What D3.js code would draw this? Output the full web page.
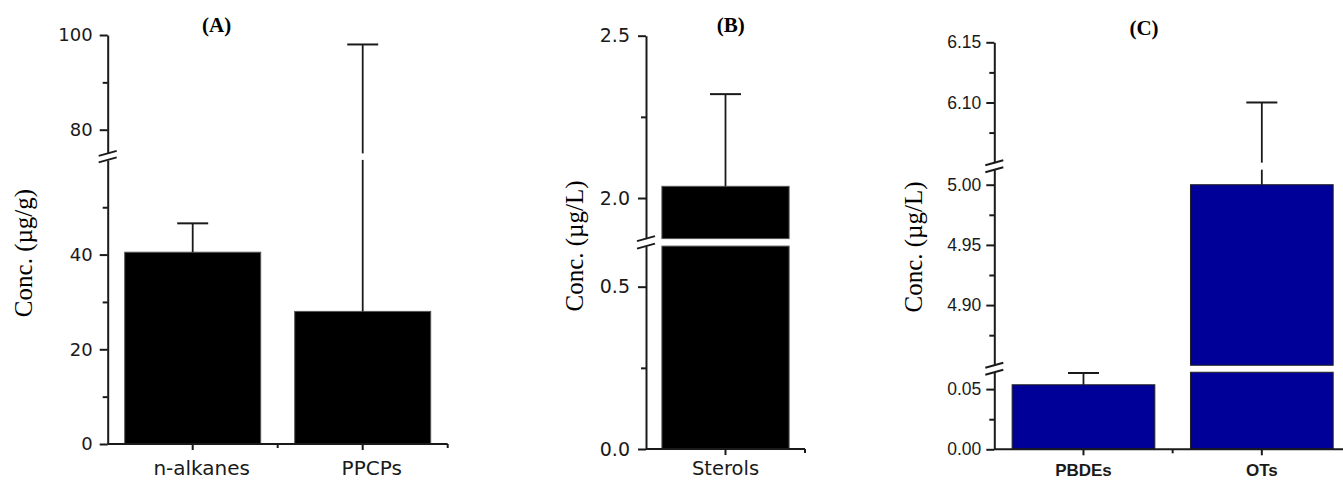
<!DOCTYPE html>
<html>
<head>
<meta charset="utf-8">
<script src="https://cdn.jsdelivr.net/npm/d3@7"></script>
<style>
  html, body { margin: 0; padding: 0; background: #fff; }
  svg { display: block; }
</style>
</head>
<body>
<div id="chart"></div>
<script>
// panel A (sediment, µg/g)
const aCategories = ["n-alkanes", "PPCPs"];
const aValues = [40.5, 28.0];
const aErrors = [6.1, 70.0];
const aSegments = [[0, 60], [75, 100]];
const aTicks = [0, 20, 40, 80, 100];
const aMinorTicks = [10, 30, 50, 90];

// panel B (water, µg/L)
const bCategories = ["Sterols"];
const bValues = [2.036];
const bErrors = [0.284];
const bSegments = [[0, 0.625], [1.875, 2.5]];
const bTicks = [0, 0.5, 2.0, 2.5];
const bMinorTicks = [0.25, 2.25];

// panel C (water, µg/L)
const cCategories = ["PBDEs", "OTs"];
const cValues = [0.0536, 5.0];
const cErrors = [0.0098, 1.10];
const cSegments = [[0, 0.064], [4.85, 5.0125], [6.05, 6.15]];
const cTicks = [0, 0.05, 4.90, 4.95, 5.00, 6.10, 6.15];
const cMinorTicks = [0.025, 4.875, 4.925, 4.975, 6.075, 6.125];

const W = 1343, H = 480;
const ink = "#1a1a1a";

const svg = d3.select("#chart").append("svg")
    .attr("width", W)
    .attr("height", H);

function drawPanel(opt) {
    const g = svg.append("g");

    // stacked linear scales, one per axis segment, same px/unit
    const total = d3.sum(opt.segments, s => s[1] - s[0]);
    const k = (opt.bottom - opt.top - opt.gap * (opt.segments.length - 1)) / total;
    let y0 = opt.bottom;
    const scales = opt.segments.map(s => {
        const y1 = y0 - (s[1] - s[0]) * k;
        const sc = d3.scaleLinear().domain(s).range([y0, y1]);
        y0 = y1 - opt.gap;
        return sc;
    });

    const x = d3.scaleBand()
        .domain(opt.categories)
        .range([opt.left, opt.right])
        .paddingInner(0.2)
        .paddingOuter(0.1);

    // bars, split at the breaks
    opt.categories.forEach((c, i) => {
        const v = opt.values[i];
        const top = v + opt.errors[i];
        scales.forEach(sc => {
            const [d0, d1] = sc.domain();
            const lo = Math.max(d0, 0), hi = Math.min(d1, v);
            if (hi > lo) {
                g.append("rect")
                    .attr("x", x(c))
                    .attr("width", x.bandwidth())
                    .attr("y", sc(hi))
                    .attr("height", sc(lo) - sc(hi))
                    .attr("fill", opt.fill)
                    .attr("stroke", opt.stroke)
                    .attr("stroke-width", 1);
            }
            const elo = Math.max(d0, v), ehi = Math.min(d1, top);
            if (ehi > elo) {
                g.append("line")
                    .attr("x1", x(c) + x.bandwidth() / 2)
                    .attr("x2", x(c) + x.bandwidth() / 2)
                    .attr("y1", sc(elo))
                    .attr("y2", sc(ehi))
                    .attr("stroke", ink)
                    .attr("stroke-width", 1.8);
            }
            if (top >= d0 && top <= d1) {
                g.append("line")
                    .attr("x1", x(c) + x.bandwidth() / 2 - 15.5)
                    .attr("x2", x(c) + x.bandwidth() / 2 + 15.5)
                    .attr("y1", sc(top))
                    .attr("y2", sc(top))
                    .attr("stroke", ink)
                    .attr("stroke-width", 2);
            }
        });
    });

    // y axis, one piece per segment
    scales.forEach(sc => {
        const [d0, d1] = sc.domain();
        const yAxis = d3.axisLeft(sc)
            .tickValues(opt.ticks.filter(t => t >= d0 - 1e-9 && t <= d1 + 1e-9))
            .tickFormat(opt.format)
            .tickSize(8)
            .tickSizeOuter(0)
            .tickPadding(opt.tickPad);
        const ga = g.append("g")
            .attr("transform", `translate(${opt.left},0)`)
            .call(yAxis);
        ga.select(".domain").attr("stroke", ink).attr("stroke-width", 2);
        ga.selectAll(".tick line").attr("stroke", ink).attr("stroke-width", 2);
        ga.selectAll(".tick text")
            .attr("fill", ink)
            .style("font-family", opt.tickFont)
            .style("font-size", opt.tickSize + "px");

        const minor = d3.axisLeft(sc)
            .tickValues(opt.minorTicks.filter(t => t > d0 && t < d1))
            .tickFormat("")
            .tickSize(5)
            .tickSizeOuter(0);
        const gm = g.append("g")
            .attr("transform", `translate(${opt.left},0)`)
            .call(minor);
        gm.select(".domain").remove();
        gm.selectAll(".tick line").attr("stroke", ink).attr("stroke-width", 2);
    });

    // break marks
    for (let i = 0; i < scales.length - 1; i++) {
        const yb = [scales[i].range()[1], scales[i + 1].range()[0]];
        yb.forEach(yy => {
            g.append("line")
                .attr("x1", opt.left - 9).attr("x2", opt.left + 9)
                .attr("y1", yy + 2.5).attr("y2", yy - 2.5)
                .attr("stroke", ink)
                .attr("stroke-width", 2);
        });
    }

    // x axis
    const xAxis = d3.axisBottom(x)
        .tickSize(6)
        .tickSizeOuter(0);
    const gx = g.append("g")
        .attr("transform", `translate(0,${opt.bottom})`)
        .call(xAxis);
    gx.select(".domain").remove();
    gx.selectAll(".tick line").attr("stroke", ink).attr("stroke-width", 2);
    gx.selectAll(".tick text")
        .attr("fill", ink)
        .attr("dx", opt.labelShift)
        .attr("y", opt.labelBaseline - opt.bottom)
        .attr("dy", 0)
        .style("font-family", opt.labelFont)
        .style("font-weight", opt.labelWeight)
        .style("font-size", opt.labelSize + "px");

    g.append("line")
        .attr("x1", opt.left).attr("x2", opt.right)
        .attr("y1", opt.bottom).attr("y2", opt.bottom)
        .attr("stroke", ink)
        .attr("stroke-width", 2);

    // minor x ticks at band edges
    d3.range(1, opt.categories.length + 1).forEach(j => {
        const xx = opt.left + x.step() * j;
        g.append("line")
            .attr("x1", xx).attr("x2", xx)
            .attr("y1", opt.bottom).attr("y2", opt.bottom + 4)
            .attr("stroke", ink)
            .attr("stroke-width", 2);
    });

    // panel title
    g.append("text")
        .attr("x", opt.titleX)
        .attr("y", opt.titleY)
        .attr("text-anchor", "middle")
        .attr("fill", "#000")
        .style("font-family", "'Liberation Serif', 'Times New Roman', serif")
        .style("font-weight", "bold")
        .style("font-size", "21px")
        .text(opt.title);

    // y title
    g.append("text")
        .attr("transform", `translate(${opt.yTitleX},${opt.yTitleY}) rotate(-90)`)
        .attr("text-anchor", "middle")
        .attr("fill", "#000")
        .style("font-family", "'Liberation Serif', 'Times New Roman', serif")
        .style("font-size", "25px")
        .text(opt.yTitle);
}

drawPanel({
    categories: aCategories, values: aValues, errors: aErrors,
    segments: aSegments, ticks: aTicks, minorTicks: aMinorTicks,
    format: d3.format("d"),
    left: 107.7, right: 447.7, top: 35, bottom: 444, gap: 6.5,
    fill: "#000", stroke: "#555",
    tickFont: "'DejaVu Sans', Verdana, sans-serif", tickSize: 18, tickPad: 7,
    labelFont: "'DejaVu Sans', Verdana, sans-serif", labelSize: 20, labelWeight: "normal", labelShift: 9,
    labelBaseline: 475,
    title: "(A)", titleX: 216.7, titleY: 32,
    yTitle: "Conc. (µg/g)", yTitleX: 32, yTitleY: 253
});

drawPanel({
    categories: bCategories, values: bValues, errors: bErrors,
    segments: bSegments, ticks: bTicks, minorTicks: bMinorTicks,
    format: d3.format(".1f"),
    left: 646, right: 805, top: 35.7, bottom: 449, gap: 7.5,
    fill: "#000", stroke: "#555",
    tickFont: "'DejaVu Sans', Verdana, sans-serif", tickSize: 19, tickPad: 8,
    labelFont: "'DejaVu Sans', Verdana, sans-serif", labelSize: 19.5, labelWeight: "normal", labelShift: 0,
    labelBaseline: 475,
    title: "(B)", titleX: 730.7, titleY: 32,
    yTitle: "Conc. (µg/L)", yTitleX: 583, yTitleY: 246
});

drawPanel({
    categories: cCategories, values: cValues, errors: cErrors,
    segments: cSegments, ticks: cTicks, minorTicks: cMinorTicks,
    format: d3.format(".2f"),
    left: 994.3, right: 1351, top: 42.3, bottom: 449.3, gap: 7,
    fill: "#000099", stroke: "#222",
    tickFont: "'Liberation Sans', Arial, sans-serif", tickSize: 17.5, tickPad: 5,
    labelFont: "'Liberation Sans', Arial, sans-serif", labelSize: 17, labelWeight: "bold", labelShift: 0,
    labelBaseline: 476,
    title: "(C)", titleX: 1144, titleY: 35,
    yTitle: "Conc. (µg/L)", yTitleX: 922, yTitleY: 247
});
</script>
</body>
</html>
